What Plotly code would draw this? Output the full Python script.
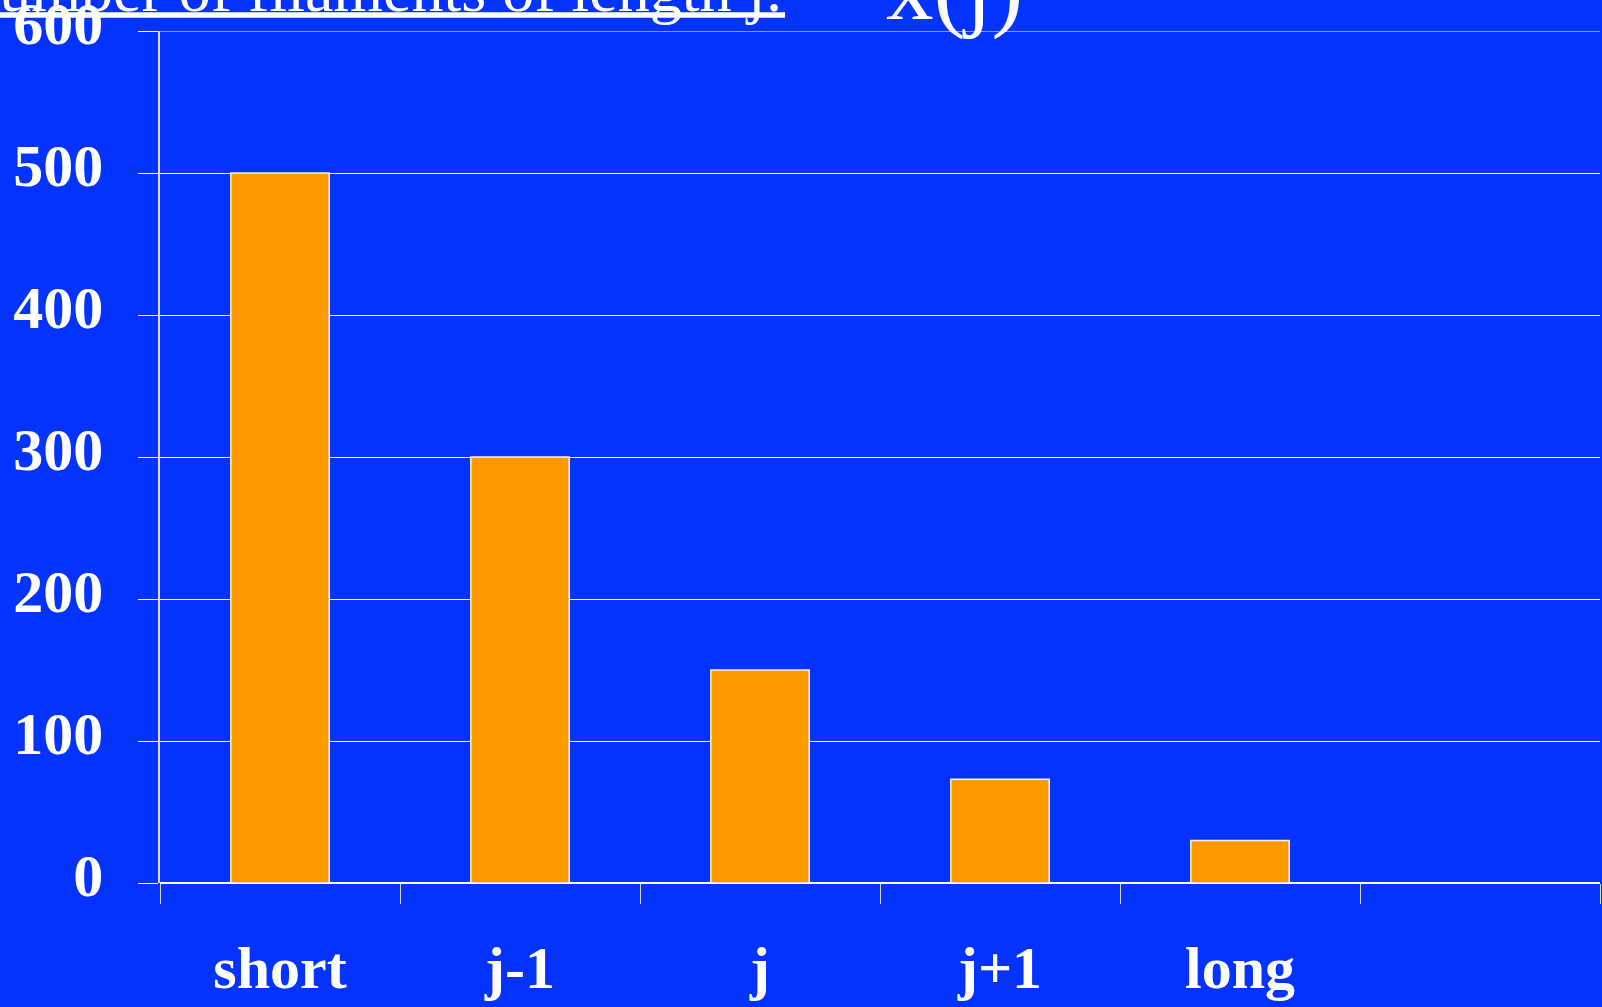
import plotly.graph_objects as go

# Filament length classes and counts
categories = ["short", "j-1", "j", "j+1", "long"]
counts = [500, 300, 150, 73, 30]
axis_slots = categories + [" "]  # trailing empty slot on the x axis
y_ticks = [0, 100, 200, 300, 400, 500, 600]
y_max = 600

BLUE = "#0433FF"
ORANGE = "#FF9900"
SERIF = "Liberation Serif"

W, H = 1602, 1007
ML, MR, MT, MB = 160, 2, 31, 124
PW, PH = W - ML - MR, H - MT - MB


def px_x(p):
    return (p - ML) / PW


def px_y(p):
    return 1 + (MT - p) / PH


fig = go.Figure(
    go.Bar(
        x=categories,
        y=counts,
        width=0.41,
        marker=dict(color=ORANGE, line=dict(color="#f4f4ff", width=1.5)),
    )
)

fig.update_layout(
    width=W,
    height=H,
    margin=dict(l=ML, r=MR, t=MT, b=MB, pad=0),
    paper_bgcolor=BLUE,
    plot_bgcolor=BLUE,
    showlegend=False,
)

fig.update_xaxes(
    type="category",
    categoryorder="array",
    categoryarray=axis_slots,
    range=[-0.5, 5.5],
    tickson="boundaries",
    ticks="outside",
    ticklen=20,
    tickcolor="#dcdcf4",
    tickwidth=1,
    showgrid=False,
    showline=False,
    automargin=False,
    tickfont=dict(family=SERIF, size=60, color="white", weight="bold"),
    ticklabelstandoff=44,
)

fig.update_yaxes(
    range=[0, y_max],
    tickvals=y_ticks,
    ticks="outside",
    ticklen=20,
    tickcolor="white",
    showgrid=True,
    gridcolor="white",
    gridwidth=1,
    zeroline=True,
    zerolinecolor="white",
    zerolinewidth=1.5,
    showline=True,
    linecolor="#dcdcf4",
    linewidth=1.5,
    automargin=False,
    ticklabeloverflow="allow",
    tickfont=dict(family=SERIF, size=60, color="white", weight="bold"),
    ticklabelstandoff=23,
    ticklabelshift=-8,
)

# Top gridline along the upper edge of the plot area
fig.add_shape(
    type="line", xref="paper", yref="y",
    x0=0, x1=1, y0=y_max, y1=y_max,
    line=dict(color="white", width=1),
)

# Heading text running off the top-left edge
fig.add_annotation(
    text="Number of filaments of length j:",
    xref="paper", yref="paper",
    x=px_x(785), y=px_y(-10.5),
    xanchor="right", yanchor="middle",
    showarrow=False,
    font=dict(family=SERIF, size=64, color="white"),
)
fig.add_shape(
    type="line", xref="paper", yref="paper",
    x0=px_x(-5), x1=px_x(785), y0=px_y(15), y1=px_y(15),
    line=dict(color="white", width=5.5),
)
fig.add_annotation(
    text="x(j)",
    xref="paper", yref="paper",
    x=px_x(884), y=px_y(-13),
    xanchor="left", yanchor="middle",
    showarrow=False,
    font=dict(family=SERIF, size=95, color="white"),
)

fig.write_html("out.html")
